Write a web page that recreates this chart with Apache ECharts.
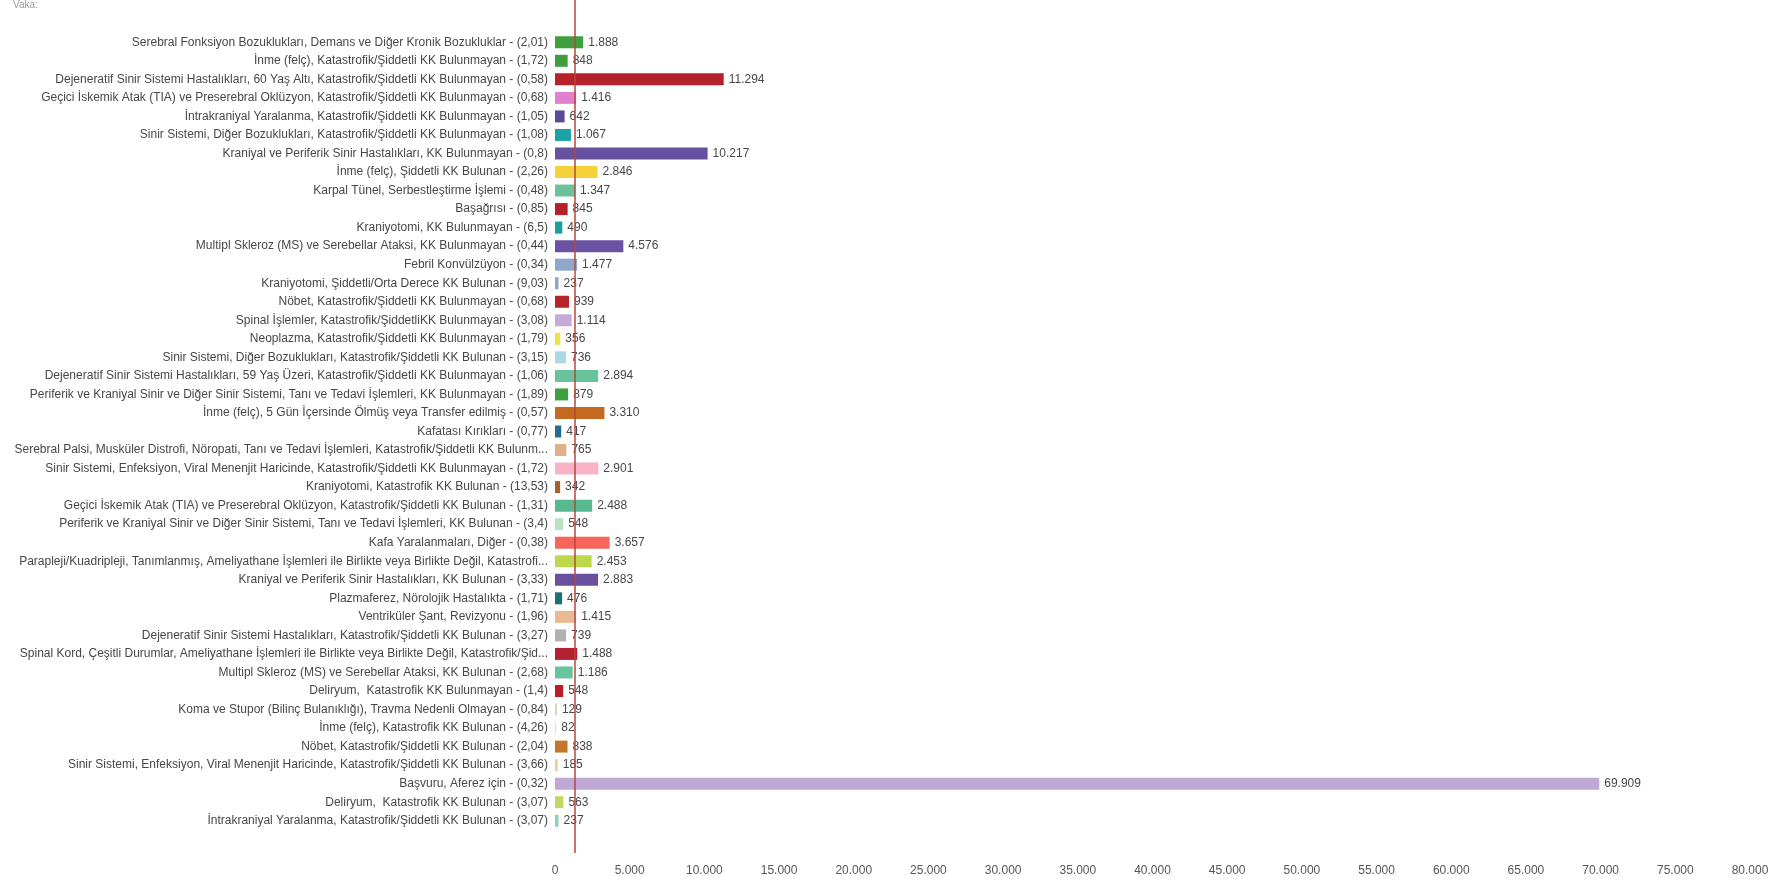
<!DOCTYPE html>
<html>
<head>
<meta charset="utf-8">
<script src="https://cdn.jsdelivr.net/npm/echarts@6/dist/echarts.min.js"></script>
<style>
html,body{margin:0;padding:0;background:#fff;}
#c{width:1782px;height:881px;}
</style>
</head>
<body>
<div id="c"></div>
<script>
const categories = [
  "Serebral Fonksiyon Bozuklukları, Demans ve Diğer Kronik Bozukluklar - (2,01)",
  "İnme (felç), Katastrofik/Şiddetli KK Bulunmayan - (1,72)",
  "Dejeneratif Sinir Sistemi Hastalıkları, 60 Yaş Altı, Katastrofik/Şiddetli KK Bulunmayan - (0,58)",
  "Geçici İskemik Atak (TIA) ve Preserebral Oklüzyon, Katastrofik/Şiddetli KK Bulunmayan - (0,68)",
  "İntrakraniyal Yaralanma, Katastrofik/Şiddetli KK Bulunmayan - (1,05)",
  "Sinir Sistemi, Diğer Bozuklukları, Katastrofik/Şiddetli KK Bulunmayan - (1,08)",
  "Kraniyal ve Periferik Sinir Hastalıkları, KK Bulunmayan - (0,8)",
  "İnme (felç), Şiddetli KK Bulunan - (2,26)",
  "Karpal Tünel, Serbestleştirme İşlemi - (0,48)",
  "Başağrısı - (0,85)",
  "Kraniyotomi, KK Bulunmayan - (6,5)",
  "Multipl Skleroz (MS) ve Serebellar Ataksi, KK Bulunmayan - (0,44)",
  "Febril Konvülzüyon - (0,34)",
  "Kraniyotomi, Şiddetli/Orta Derece KK Bulunan - (9,03)",
  "Nöbet, Katastrofik/Şiddetli KK Bulunmayan - (0,68)",
  "Spinal İşlemler, Katastrofik/ŞiddetliKK Bulunmayan - (3,08)",
  "Neoplazma, Katastrofik/Şiddetli KK Bulunmayan - (1,79)",
  "Sinir Sistemi, Diğer Bozuklukları, Katastrofik/Şiddetli KK Bulunan - (3,15)",
  "Dejeneratif Sinir Sistemi Hastalıkları, 59 Yaş Üzeri, Katastrofik/Şiddetli KK Bulunmayan - (1,06)",
  "Periferik ve Kraniyal Sinir ve Diğer Sinir Sistemi, Tanı ve Tedavi İşlemleri, KK Bulunmayan - (1,89)",
  "İnme (felç), 5 Gün İçersinde Ölmüş veya Transfer edilmiş - (0,57)",
  "Kafatası Kırıkları - (0,77)",
  "Serebral Palsi, Musküler Distrofi, Nöropati, Tanı ve Tedavi İşlemleri, Katastrofik/Şiddetli KK Bulunm...",
  "Sinir Sistemi, Enfeksiyon, Viral Menenjit Haricinde, Katastrofik/Şiddetli KK Bulunmayan - (1,72)",
  "Kraniyotomi, Katastrofik KK Bulunan - (13,53)",
  "Geçici İskemik Atak (TIA) ve Preserebral Oklüzyon, Katastrofik/Şiddetli KK Bulunan - (1,31)",
  "Periferik ve Kraniyal Sinir ve Diğer Sinir Sistemi, Tanı ve Tedavi İşlemleri, KK Bulunan - (3,4)",
  "Kafa Yaralanmaları, Diğer - (0,38)",
  "Parapleji/Kuadripleji, Tanımlanmış, Ameliyathane İşlemleri ile Birlikte veya Birlikte Değil, Katastrofi...",
  "Kraniyal ve Periferik Sinir Hastalıkları, KK Bulunan - (3,33)",
  "Plazmaferez, Nörolojik Hastalıkta - (1,71)",
  "Ventriküler Şant, Revizyonu - (1,96)",
  "Dejeneratif Sinir Sistemi Hastalıkları, Katastrofik/Şiddetli KK Bulunan - (3,27)",
  "Spinal Kord, Çeşitli Durumlar, Ameliyathane İşlemleri ile Birlikte veya Birlikte Değil, Katastrofik/Şid...",
  "Multipl Skleroz (MS) ve Serebellar Ataksi, KK Bulunan - (2,68)",
  "Deliryum,  Katastrofik KK Bulunmayan - (1,4)",
  "Koma ve Stupor (Bilinç Bulanıklığı), Travma Nedenli Olmayan - (0,84)",
  "İnme (felç), Katastrofik KK Bulunan - (4,26)",
  "Nöbet, Katastrofik/Şiddetli KK Bulunan - (2,04)",
  "Sinir Sistemi, Enfeksiyon, Viral Menenjit Haricinde, Katastrofik/Şiddetli KK Bulunan - (3,66)",
  "Başvuru, Aferez için - (0,32)",
  "Deliryum,  Katastrofik KK Bulunan - (3,07)",
  "İntrakraniyal Yaralanma, Katastrofik/Şiddetli KK Bulunan - (3,07)"
];

const values = [
  1888, 848, 11294, 1416, 642, 1067, 10217, 2846, 1347, 845,
  490, 4576, 1477, 237, 939, 1114, 356, 736, 2894, 879,
  3310, 417, 765, 2901, 342, 2488, 548, 3657, 2453, 2883,
  476, 1415, 739, 1488, 1186, 548, 129, 82, 838, 185,
  69909, 563, 237
];

const barColors = [
  "#3f9f3f", "#3f9f3f", "#b5222b", "#e27fd0", "#5a4c94", "#19a3a3", "#6650a0", "#f6d23a", "#6cc29d", "#b52027",
  "#17a09c", "#6a52a3", "#8ea7cb", "#8fa6c6", "#b5252a", "#c7a9d8", "#efe04a", "#a9d9e2", "#68c39d", "#3f9f3f",
  "#c46a22", "#266d8f", "#e2b088", "#f8b4c6", "#a8602b", "#58b991", "#b9e2c3", "#f7665a", "#bdd84c", "#6a4f9e",
  "#1e7173", "#e9b993", "#b1b1b1", "#b42132", "#68c49e", "#b81e2a", "#e9d2b4", "#f1d9e2", "#c47729", "#f1c9a3",
  "#c0a8d4", "#c2d862", "#8ad1c1"
];

const xTicks = { min: 0, max: 80000, interval: 5000 };
const referenceValue = 1290;
const headerText = "Vaka:";

function fmt(v) {
  return String(Math.round(v)).replace(/\B(?=(\d{3})+(?!\d))/g, ".");
}

const FONT = "'Liberation Sans', Arial, sans-serif";

const chart = echarts.init(document.getElementById('c'), null, { renderer: 'canvas' });
chart.setOption({
  animation: false,
  backgroundColor: '#ffffff',
  title: {
    text: headerText,
    left: 8,
    top: -5,
    textStyle: { fontFamily: FONT, fontSize: 10, fontWeight: 'normal', color: '#9a9a9a' }
  },
  grid: [
    { left: 555, right: 32, top: 33, bottom: 51, containLabel: false },
    { left: 555, right: 32, top: 0, bottom: 28, containLabel: false }
  ],
  xAxis: [
    {
      gridIndex: 0,
      type: 'value',
      min: xTicks.min, max: xTicks.max, interval: xTicks.interval,
      axisLine: { show: false },
      axisTick: { show: false },
      splitLine: { show: false },
      axisLabel: {
        margin: 35,
        fontFamily: FONT, fontSize: 12, color: '#555',
        formatter: v => fmt(v)
      }
    },
    {
      gridIndex: 1,
      type: 'value',
      min: xTicks.min, max: xTicks.max,
      show: false
    }
  ],
  yAxis: [
    {
      gridIndex: 0,
      type: 'category',
      inverse: true,
      data: categories,
      axisLine: { show: false },
      axisTick: { show: false },
      splitLine: { show: false },
      axisLabel: {
        margin: 7,
        fontFamily: FONT, fontSize: 12, color: '#474747',
        interval: 0
      }
    },
    {
      gridIndex: 1,
      type: 'value',
      min: 0, max: 1,
      show: false
    }
  ],
  series: [
    {
      type: 'bar',
      xAxisIndex: 0,
      yAxisIndex: 0,
      barWidth: 12,
      data: values.map((v, i) => ({ value: v, itemStyle: { color: barColors[i] } })),
      label: {
        show: true,
        position: 'right',
        distance: 5,
        fontFamily: FONT, fontSize: 12, color: '#474747',
        formatter: p => fmt(p.value)
      },
      z: 2
    },
    {
      type: 'line',
      xAxisIndex: 1,
      yAxisIndex: 1,
      data: [],
      z: 10,
      markLine: {
        silent: true,
        symbol: ['none', 'none'],
        label: { show: false },
        lineStyle: { color: '#b4473c', width: 1.5, type: 'solid' },
        data: [{ xAxis: referenceValue }]
      }
    }
  ]
});
</script>
</body>
</html>
